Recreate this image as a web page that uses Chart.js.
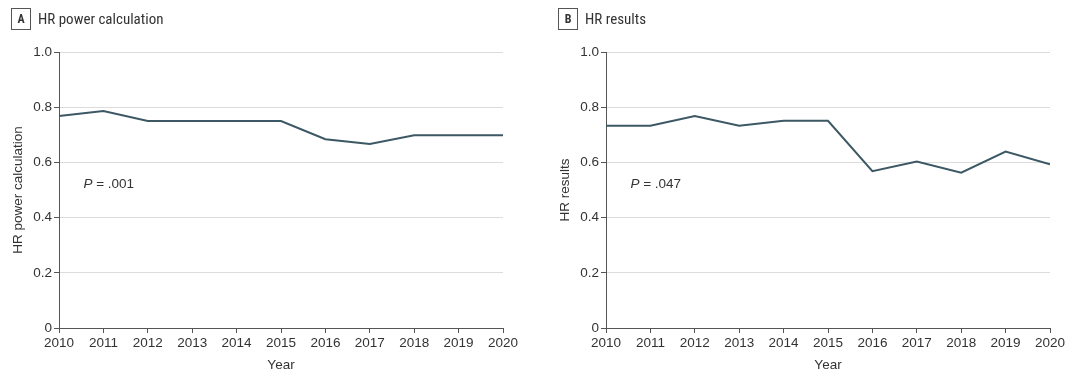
<!DOCTYPE html>
<html>
<head>
<meta charset="utf-8">
<script src="https://cdn.jsdelivr.net/npm/chart.js@4/dist/chart.umd.min.js"></script>
<style>
  html, body { margin: 0; padding: 0; background: #fff; }
  body { width: 1080px; height: 381px; position: relative; overflow: hidden;
         font-family: "Liberation Sans Narrow", "Roboto Condensed", "Liberation Sans", sans-serif; color: #333; }
  .panel { position: absolute; top: 0; width: 540px; height: 381px; }
  .panel canvas { position: absolute; left: 0; top: 0; }
  .ptitle { position: absolute; top: 8px; font-size: 15px; display: flex; align-items: center; color: #333; }
  .ptitle .box { display: inline-block; border: 1px solid #555; width: 18px; height: 20px; line-height: 20px;
                 text-align: center; font-weight: bold; font-size: 12px; margin-right: 7px; }
</style>
</head>
<body>
<div class="panel" style="left:0">
  <canvas id="cA" width="540" height="381"></canvas>
  <div class="ptitle" style="left:11px"><span class="box">A</span><span>HR power calculation</span></div>
</div>
<div class="panel" style="left:547px">
  <canvas id="cB" width="540" height="381"></canvas>
  <div class="ptitle" style="left:11px"><span class="box">B</span><span>HR results</span></div>
</div>
<script>
const years = [2010, 2011, 2012, 2013, 2014, 2015, 2016, 2017, 2018, 2019, 2020];
const hrPowerCalculation = [0.768, 0.786, 0.750, 0.750, 0.750, 0.750, 0.684, 0.667, 0.698, 0.698, 0.698];
const hrResults = [0.733, 0.733, 0.768, 0.733, 0.751, 0.751, 0.568, 0.603, 0.563, 0.639, 0.593];
const yTicks = [0, 0.2, 0.4, 0.6, 0.8, 1.0];
const pLabelA = ".001";
const pLabelB = ".047";

const FONT = '"Liberation Sans Narrow", "Liberation Sans", sans-serif';
const TXT = '#333';

const pPlugin = {
  id: 'pLabel',
  afterDatasetsDraw(chart, args, opts) {
    const { ctx, scales } = chart;
    const x = scales.x.getPixelForValue(2010.55);
    const y = scales.y.getPixelForValue(0.52);
    ctx.save();
    ctx.fillStyle = TXT;
    ctx.textBaseline = 'middle';
    ctx.textAlign = 'left';
    ctx.font = 'italic 13.5px ' + FONT;
    ctx.fillText('P', x, y);
    const w = ctx.measureText('P').width;
    ctx.font = '13.5px ' + FONT;
    ctx.fillText(' = ' + opts.text, x + w, y);
    ctx.restore();
  }
};

function makeChart(id, values, yTitle, pText) {
  return new Chart(document.getElementById(id), {
    type: 'line',
    data: {
      datasets: [{
        data: years.map((yr, i) => ({ x: yr, y: values[i] })),
        borderColor: '#3d5865',
        borderWidth: 2,
        pointRadius: 0,
        tension: 0,
        fill: false
      }]
    },
    options: {
      responsive: false,
      animation: false,
      layout: { padding: { top: 52, right: 37, left: 0, bottom: 0 } },
      plugins: { legend: { display: false }, tooltip: { enabled: false }, pLabel: { text: pText } },
      scales: {
        x: {
          type: 'linear', min: 2010, max: 2020,
          afterBuildTicks: s => { s.ticks = years.map(v => ({ value: v })); },
          afterFit: s => { s.height = 53; },
          ticks: { callback: v => String(v), color: TXT, font: { family: FONT, size: 13.5 }, padding: 2, maxRotation: 0, autoSkip: false },
          grid: { drawOnChartArea: false, drawTicks: true, tickLength: 5, tickColor: '#555' },
          border: { color: '#555', width: 1 },
          title: { display: true, text: 'Year', color: TXT, font: { family: FONT, size: 13.5 }, padding: { top: 3, bottom: 8 } }
        },
        y: {
          min: 0, max: 1,
          afterBuildTicks: s => { s.ticks = yTicks.map(v => ({ value: v })); },
          afterFit: s => { s.width = 59; },
          ticks: { callback: v => (v === 0 ? '0' : v.toFixed(1)), color: TXT, font: { family: FONT, size: 13.5 }, padding: 2 },
          grid: { color: ctx => (ctx.tick && ctx.tick.value === 0 ? '#555' : '#dcdcdc'), lineWidth: 1, drawTicks: true, tickLength: 5, tickColor: '#555' },
          border: { color: '#555', width: 1 },
          title: { display: true, text: yTitle, color: TXT, font: { family: FONT, size: 13.5 }, padding: { top: 10, bottom: 0 } }
        }
      }
    },
    plugins: [pPlugin]
  });
}

makeChart('cA', hrPowerCalculation, 'HR power calculation', pLabelA);
makeChart('cB', hrResults, 'HR results', pLabelB);
</script>
</body>
</html>
